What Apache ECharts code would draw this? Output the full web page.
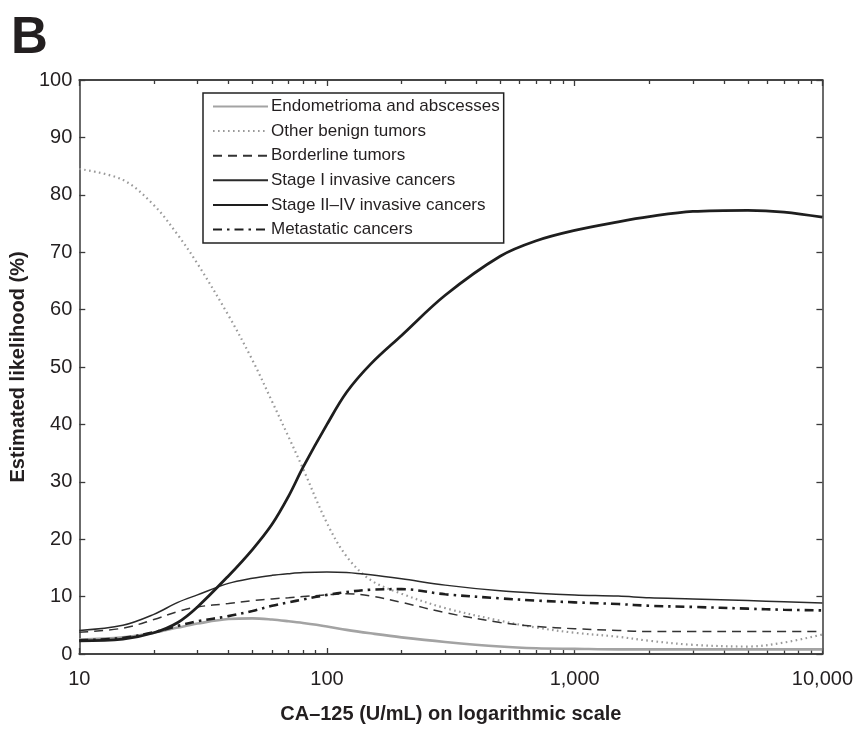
<!DOCTYPE html>
<html>
<head>
<meta charset="utf-8">
<script src="https://cdn.jsdelivr.net/npm/echarts@6/dist/echarts.min.js"></script>
<style>html,body{margin:0;padding:0;background:#fff}#c{width:856px;height:729px}</style>
</head>
<body>
<div id="c"></div>
<script>
const caValues = [10, 15, 20, 25, 30, 40, 50, 60, 70, 80, 100, 120, 150, 200, 300, 500, 700, 1000, 1500, 2000, 3000, 5000, 7000, 10000];
const endometrioma = [2.5, 2.9, 3.7, 4.6, 5.3, 6.1, 6.2, 6.0, 5.7, 5.4, 4.8, 4.2, 3.6, 2.9, 2.1, 1.3, 1.0, 0.9, 0.8, 0.8, 0.8, 0.8, 0.8, 0.8];
const otherBenign = [84.5, 82.6, 78.2, 73.0, 68.0, 59.0, 51.2, 44.0, 37.8, 32.3, 22.8, 17.0, 12.9, 10.5, 8.0, 5.8, 4.6, 3.7, 3.0, 2.3, 1.6, 1.3, 2.0, 3.4];
const borderline = [3.8, 4.5, 6.0, 7.4, 8.2, 8.8, 9.3, 9.6, 9.8, 10.0, 10.3, 10.5, 10.1, 9.0, 7.2, 5.5, 4.8, 4.4, 4.1, 3.9, 3.9, 3.9, 3.9, 3.9];
const stageI = [4.1, 5.0, 6.9, 9.0, 10.3, 12.3, 13.2, 13.7, 14.0, 14.2, 14.3, 14.2, 13.8, 13.1, 12.0, 11.0, 10.6, 10.3, 10.1, 9.8, 9.6, 9.3, 9.1, 8.9];
const stageIIIV = [2.3, 2.6, 3.7, 5.5, 8.2, 13.6, 18.2, 22.6, 27.5, 32.5, 40.0, 45.6, 50.5, 55.5, 62.5, 69.3, 72.0, 73.8, 75.3, 76.2, 77.1, 77.3, 77.0, 76.1];
const metastatic = [2.4, 2.8, 3.8, 4.9, 5.7, 6.6, 7.5, 8.4, 9.0, 9.5, 10.3, 10.8, 11.2, 11.3, 10.4, 9.7, 9.3, 9.0, 8.7, 8.4, 8.2, 7.9, 7.7, 7.6];

const seriesNames = ['Endometrioma and abscesses', 'Other benign tumors', 'Borderline tumors', 'Stage I invasive cancers', 'Stage II\u2013IV invasive cancers', 'Metastatic cancers'];
const xMajorTicks = [10, 100, 1000, 10000];
const xMinorTicks = [20,30,40,50,60,70,80,90,200,300,400,500,600,700,800,900,2000,3000,4000,5000,6000,7000,8000,9000];

const FONT = 'Liberation Sans, Arial, sans-serif';
const TXT = '#231f20';
const AX = '#3a3a3a';

function pairs(vals) { return caValues.map((x, i) => [x, vals[i]]); }

const styles = [
  {color: '#a3a3a3', width: 2.6, type: 'solid'},
  {color: '#9a9a9a', width: 2.2, type: [1.6, 3.4]},
  {color: '#333333', width: 1.5, type: [9, 6]},
  {color: '#2a2a2a', width: 1.5, type: 'solid'},
  {color: '#1e1e1e', width: 2.8, type: 'solid'},
  {color: '#1e1e1e', width: 2.6, type: [9, 5, 2.5, 5]}
];
const dataSets = [endometrioma, otherBenign, borderline, stageI, stageIIIV, metastatic];

function xAxisDef(pos, major, showLabel) {
  return {
    type: 'log', logBase: 10, min: 10, max: 10000, position: pos,
    axisLine: {show: true, onZero: false, lineStyle: {color: AX, width: 1.5}},
    axisTick: {show: true, inside: true, length: major ? 6 : 4, customValues: major ? xMajorTicks : xMinorTicks, lineStyle: {color: AX, width: 1.3}},
    minorTick: {show: false},
    splitLine: {show: false},
    axisLabel: {show: showLabel, customValues: xMajorTicks, margin: 15, fontSize: 20, fontFamily: FONT, color: TXT,
      formatter: v => Number(v).toLocaleString('en-US')},
    name: showLabel ? 'CA\u2013125 (U/mL) on logarithmic scale' : '',
    nameLocation: 'middle', nameGap: 50,
    nameTextStyle: {fontSize: 20, fontWeight: 'bold', fontFamily: FONT, color: TXT}
  };
}
function yAxisDef(pos, showLabel) {
  return {
    type: 'value', min: 0, max: 100, interval: 10, position: pos,
    axisLine: {show: true, onZero: false, lineStyle: {color: AX, width: 1.5}},
    axisTick: {show: true, inside: true, length: 6, lineStyle: {color: AX, width: 1.3}},
    splitLine: {show: false},
    axisLabel: {show: showLabel, margin: 7, fontSize: 20, fontFamily: FONT, color: TXT},
    name: showLabel ? 'Estimated likelihood (%)' : '',
    nameLocation: 'middle', nameGap: 33,
    nameTextStyle: {fontSize: 20, fontWeight: 'bold', fontFamily: FONT, color: TXT}
  };
}

const chart = echarts.init(document.getElementById('c'), null, {renderer: 'canvas'});
chart.setOption({
  animation: false,
  backgroundColor: '#fff',
  title: {text: 'B', left: 6, top: 8, textStyle: {fontSize: 51, fontWeight: 'bold', fontFamily: FONT, color: TXT}},
  grid: {left: 79, top: 80, width: 745, height: 579, containLabel: false},
  legend: {
    orient: 'vertical', left: 203, top: 93,
    itemWidth: 55, itemHeight: 14, itemGap: 7.6,
    padding: [5, 4, 5, 9],
    borderColor: '#222', borderWidth: 1.5, backgroundColor: '#fff',
    itemStyle: {opacity: 0},
    textStyle: {fontSize: 17, fontFamily: FONT, color: TXT, padding: [0, 0, 0, -2]},
    data: seriesNames
  },
  xAxis: [xAxisDef('bottom', true, true), xAxisDef('top', true, false), xAxisDef('bottom', false, false), xAxisDef('top', false, false)],
  yAxis: [yAxisDef('left', true), yAxisDef('right', false)],
  series: seriesNames.map((n, i) => ({
    name: n, type: 'line', xAxisIndex: 0, yAxisIndex: 0,
    data: pairs(dataSets[i]), smooth: 0.35, showSymbol: false, symbol: 'none',
    itemStyle: {color: styles[i].color},
    lineStyle: {color: styles[i].color, width: styles[i].width, type: styles[i].type},
    z: i === 4 ? 5 : 3
  }))
});
</script>
</body>
</html>
